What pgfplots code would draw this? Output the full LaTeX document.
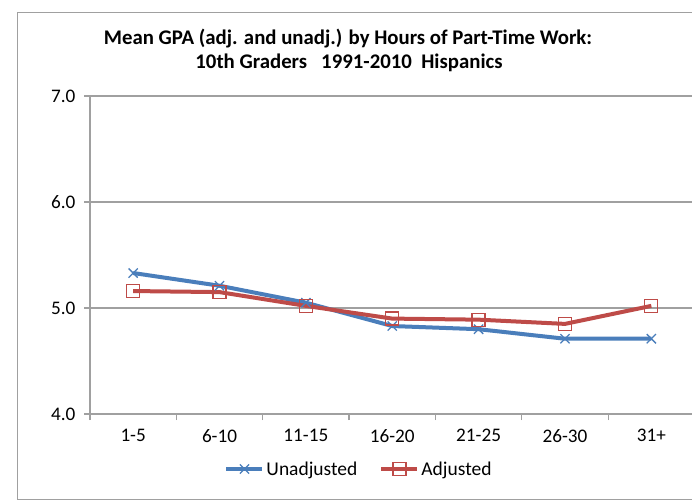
\documentclass[border=0pt]{standalone}
\usepackage{fontspec}
\setmainfont{Carlito}
\usepackage{pgfplots}
\pgfplotsset{compat=1.18}
\definecolor{ublue}{HTML}{4A7EBB}
\definecolor{ared}{HTML}{BE4B48}
\definecolor{gridc}{HTML}{A0A0A0}
\begin{document}
\begin{tikzpicture}[x=1pt,y=1pt]
\clip (0,0) rectangle (692,501);
\fill[white] (0,0) rectangle (692,501);
\draw[color=gridc, line width=1pt] (17,2) rectangle (720,488);
\node[anchor=base, font=\fontsize{20.8}{24}\selectfont\bfseries] at (348,456) {Mean GPA (adj. and unadj.) by Hours of Part-Time Work:};
\node[anchor=base, font=\fontsize{20.8}{24}\selectfont\bfseries] at (349,432) {10th Graders\ \ \ 1991-2010\ \ Hispanics};
\begin{axis}[
  at={(90pt,87pt)}, anchor=south west,
  scale only axis, width=604.5pt, height=318pt,
  xmin=-0.5, xmax=6.5, ymin=4, ymax=7,
  axis lines*=left,
  axis line style={draw=gridc, line width=1.2pt},
  ytick={4,5,6,7},
  yticklabel style={/pgf/number format/fixed, /pgf/number format/fixed zerofill, /pgf/number format/precision=1, xshift=-5pt},
  /pgf/number format/assume math mode=true,
  ymajorgrids, grid style={draw=gridc, line width=1.2pt},
  xtick={0,...,6},
  xticklabels={1-5,6-10,11-15,16-20,21-25,26-30,31+},
  minor xtick={-0.5,0.5,...,6.5},
  tick align=outside,
  major tick length=6pt, minor tick length=6pt,
  xtick style={draw=none},
  minor x tick style={draw=gridc, line width=1.2pt},
  ytick style={draw=gridc, line width=1.2pt},
  ticklabel style={font=\fontsize{19.2}{22}\selectfont, text=black},
  xticklabel style={yshift=-6pt},
  legend style={at={(0.445,-0.173)}, anchor=center, draw=none, fill=none,
    legend columns=2, font=\fontsize{19.5}{22}\selectfont,
    /tikz/every even column/.append style={column sep=20pt},
    /tikz/every odd column/.append style={inner xsep=1pt}},
  legend cell align=left,
  legend image code/.code={\draw[#1, mark repeat=2, mark phase=2] plot coordinates {(0pt,0pt) (18pt,0pt) (36pt,0pt)};},
]
\addplot[color=ublue, line width=4pt, mark=x, mark size=6.5pt, mark options={line width=1.3pt, solid}]
  coordinates {(0,5.33) (1,5.21) (2,5.05) (3,4.83) (4,4.80) (5,4.71) (6,4.71)};
\addlegendentry{Unadjusted}
\addplot[color=ared, line width=4pt, mark=square, mark size=6.5pt, mark options={line width=1.3pt, solid, fill=none}]
  coordinates {(0,5.16) (1,5.15) (2,5.02) (3,4.90) (4,4.89) (5,4.85) (6,5.02)};
\addlegendentry{Adjusted}
\end{axis}
\end{tikzpicture}
\end{document}
